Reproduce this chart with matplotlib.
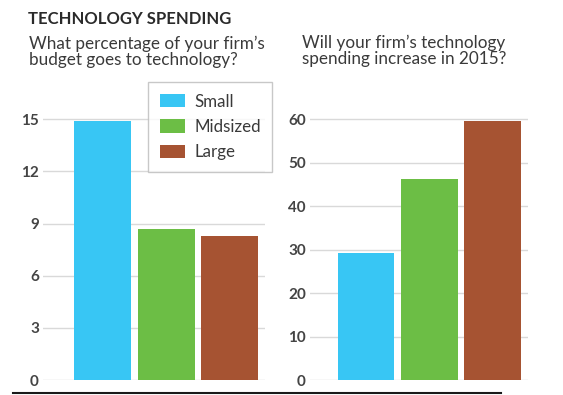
import matplotlib
matplotlib.use("Agg")
import matplotlib.pyplot as plt
from matplotlib.patches import Patch
from matplotlib.lines import Line2D

plt.rcParams['font.family'] = ['Lato', 'DejaVu Sans']

# 数据
categories = ["Small", "Midsized", "Large"]
colors = ["#38c6f4", "#6cbe45", "#a65332"]
budget_pct = [14.9, 8.7, 8.3]          # 技术预算占比
increase_pct = [29.2, 46.3, 59.5]      # 2015 年技术支出增加
left_ticks = [0, 3, 6, 9, 12, 15]
right_ticks = [0, 10, 20, 30, 40, 50, 60]

title = "TECHNOLOGY SPENDING"
left_q = "What percentage of your firm\u2019s\nbudget goes to technology?"
right_q = "Will your firm\u2019s technology\nspending increase in 2015?"

W, H = 563, 395
fig = plt.figure(figsize=(W / 100, H / 100), dpi=100)

text_c = "#3a3a3a"
grid_c = "#d9d9d9"

def px_axes(x0, x1, y_top, y_bot):
    return fig.add_axes([x0 / W, 1 - y_bot / H, (x1 - x0) / W, (y_bot - y_top) / H])

ax1 = px_axes(43, 265, 114, 380)
ax2 = px_axes(310, 528, 114, 380)

for ax, vals, ticks, ytop, xl in [
    (ax1, budget_pct, left_ticks, 15.3, -0.94),
    (ax2, increase_pct, right_ticks, 61.2, -0.885),
]:
    ax.bar(range(len(vals)), vals, width=0.9, color=colors, zorder=2)
    ax.set_ylim(0, ytop)
    ax.set_xlim(xl, 2.56)
    ax.set_yticks(ticks)
    ax.set_xticks([])
    ax.yaxis.grid(True, color=grid_c, lw=1, zorder=0)
    ax.tick_params(axis="y", length=0, pad=3, labelsize=11, labelcolor="#444444")
    for lab in ax.get_yticklabels():
        lab.set_fontweight("bold")
    for s in ax.spines.values():
        s.set_visible(False)

# 标题
fig.text(28 / W, 1 - 24 / H, title, fontsize=12, fontweight="bold", color="#2a2a2a")
fig.text(29 / W, 1 - 65 / H, left_q, fontsize=12.3, color=text_c, va="baseline", linespacing=1.0)
fig.text(302 / W, 1 - 64 / H, right_q, fontsize=12.3, color=text_c, va="baseline", linespacing=1.0)

# 图例
handles = [Patch(facecolor=c, edgecolor="none") for c in colors]
leg = fig.legend(handles, categories, loc="upper left", bbox_to_anchor=(148 / W, 1 - 82 / H),
                 fontsize=12.2, frameon=True, fancybox=False, shadow=False,
                 handlelength=1.5, handleheight=0.85, handletextpad=0.55,
                 labelspacing=0.55, borderpad=0.68, borderaxespad=0)
leg.get_frame().set_edgecolor("#bbbbbb")
leg.get_frame().set_linewidth(1)
for t in leg.get_texts():
    t.set_color(text_c)

# 底部黑线
fig.add_artist(Line2D([13 / W, 501 / W], [1 - 393 / H] * 2, color="#1a1a1a", lw=1.5,
                      transform=fig.transFigure))

fig.savefig("out.png", dpi=100)
